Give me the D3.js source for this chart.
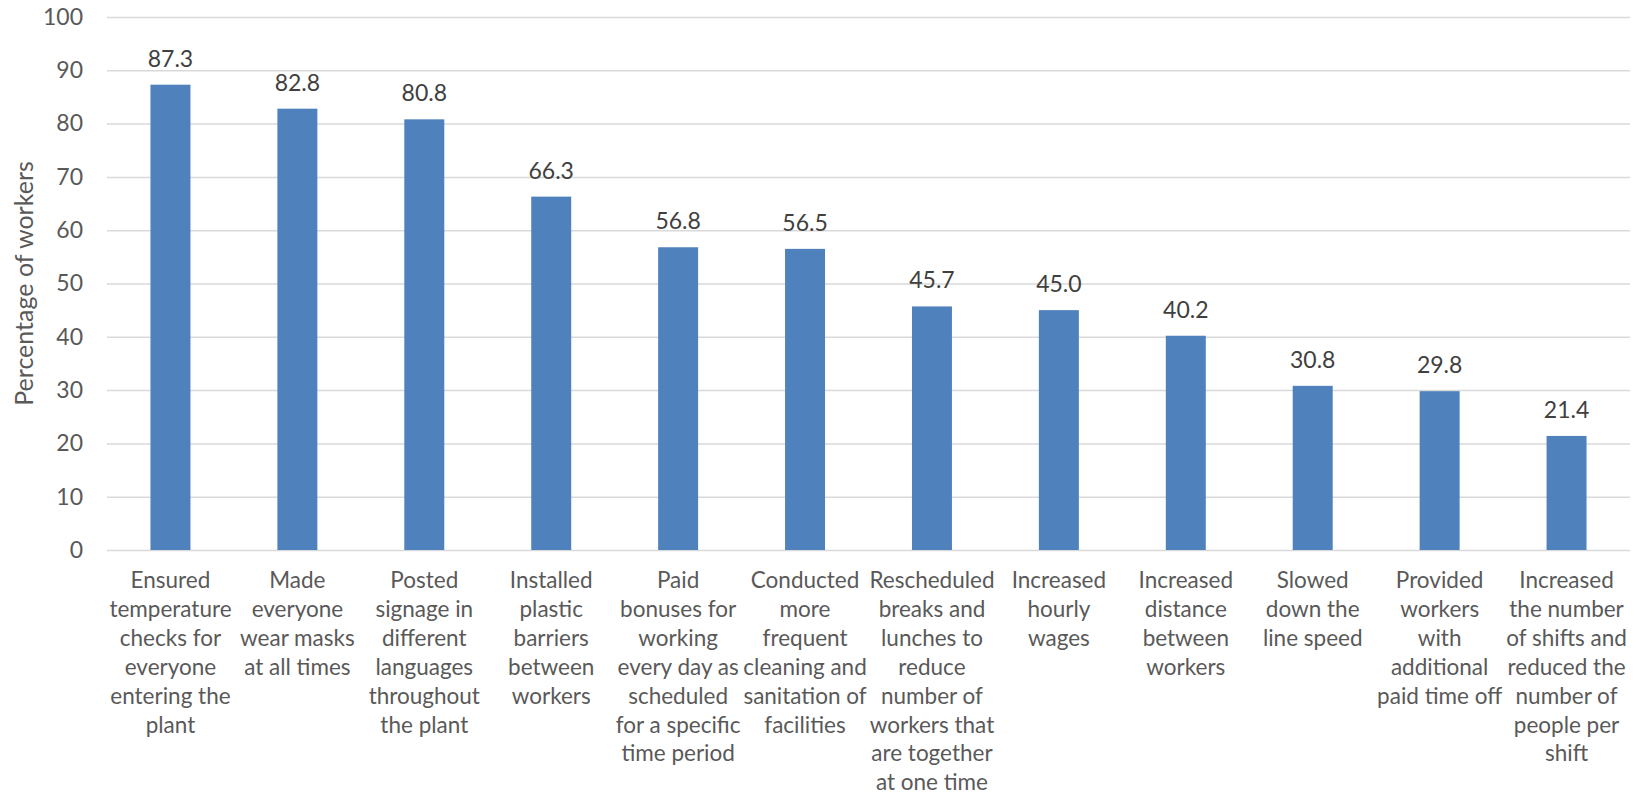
<!DOCTYPE html>
<html>
<head>
<meta charset="utf-8">
<script src="https://cdn.jsdelivr.net/npm/d3@7"></script>
<style>
    body { margin: 0; background: #fff; }
    text { font-family: Lato, "Open Sans", sans-serif; }
</style>
</head>
<body>
<div id="chart"></div>
<script>
// categories ("|" marks the line breaks as in the original)
const categories = [
    "Ensured|temperature|checks for|everyone|entering the|plant",
    "Made|everyone|wear masks|at all times",
    "Posted|signage in|different|languages|throughout|the plant",
    "Installed|plastic|barriers|between|workers",
    "Paid|bonuses for|working|every day as|scheduled|for a specific|time period",
    "Conducted|more|frequent|cleaning and|sanitation of|facilities",
    "Rescheduled|breaks and|lunches to|reduce|number of|workers that|are together|at one time",
    "Increased|hourly|wages",
    "Increased|distance|between|workers",
    "Slowed|down the|line speed",
    "Provided|workers|with|additional|paid time off",
    "Increased|the number|of shifts and|reduced the|number of|people per|shift"
];
const values = [87.3, 82.8, 80.8, 66.3, 56.8, 56.5, 45.7, 45.0, 40.2, 30.8, 29.8, 21.4];
const yTicks = [0, 10, 20, 30, 40, 50, 60, 70, 80, 90, 100];
const yLabel = "Percentage of workers";

let width = 1639,
    height = 796,
    margin = { top: 17, right: 9, bottom: 246, left: 107 };

const svg = d3
    .select("#chart")
    .append("svg")
    .attr("width", width)
    .attr("height", height);

let x = d3
    .scaleBand()
    .domain(categories)
    .range([margin.left, width - margin.right])
    .paddingInner(0.685)
    .paddingOuter(0.3425);

let y = d3
    .scaleLinear()
    .domain([0, 100])
    .range([height - margin.bottom, margin.top]);

// y axis + gridlines
let yAxis = svg.append("g")
    .attr("transform", `translate(${margin.left},0)`)
    .call(d3.axisLeft(y).tickValues(yTicks).tickSize(-(width - margin.left - margin.right)).tickPadding(24));
yAxis.select(".domain").remove();
yAxis.selectAll(".tick line").attr("stroke", "#d9d9d9").attr("stroke-width", 1.5);
yAxis.selectAll(".tick text")
    .attr("fill", "#595959")
    .style("font-size", "23px");

// bars
svg.append("g")
    .selectAll("rect")
    .data(values)
    .join("rect")
    .attr("x", (d, i) => x(categories[i]))
    .attr("y", (d) => y(d))
    .attr("width", x.bandwidth())
    .attr("height", (d) => y(0) - y(d))
    .attr("fill", "#4f81bd");

// value labels
svg.append("g")
    .selectAll("text")
    .data(values)
    .join("text")
    .attr("x", (d, i) => x(categories[i]) + x.bandwidth() / 2)
    .attr("y", (d) => y(d) - 18)
    .attr("text-anchor", "middle")
    .attr("fill", "#404040")
    .style("font-size", "23px")
    .text((d) => d.toFixed(1));

// category labels
let xAxis = svg.append("g")
    .attr("transform", `translate(0,${height - margin.bottom})`)
    .call(d3.axisBottom(x).tickSize(0).tickFormat(""));
xAxis.select(".domain").remove();
xAxis.selectAll(".tick").each(function (d) {
    let t = d3.select(this).append("text")
        .attr("text-anchor", "middle")
        .attr("fill", "#595959")
        .style("font-size", "22.5px");
    d.split("|").forEach((line, i) => {
        t.append("tspan")
            .attr("x", 0)
            .attr("y", 38 + i * 28.9)
            .text(line);
    });
});

// y label
svg.append("text")
    .attr("text-anchor", "middle")
    .attr("transform", `translate(33,${(y(0) + y(100)) / 2}) rotate(-90)`)
    .attr("fill", "#595959")
    .style("font-size", "25px")
    .text(yLabel);
</script>
</body>
</html>
